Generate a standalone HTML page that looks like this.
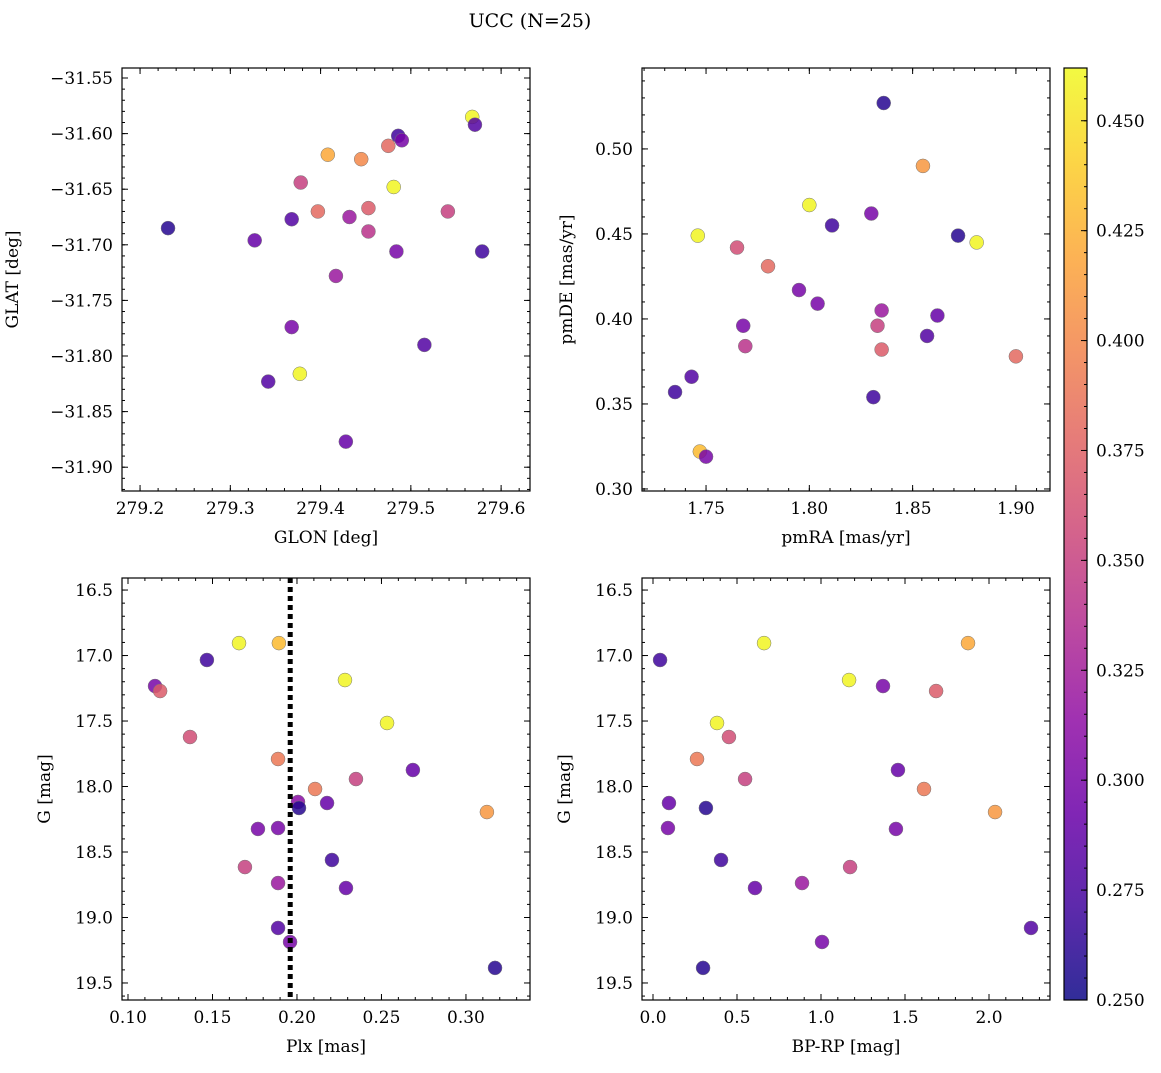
<!DOCTYPE html>
<html><head><meta charset="utf-8">
<style>
body{margin:0;background:#fff;}
svg text{font-family:"DejaVu Serif","Liberation Serif",serif;fill:#000;}
</style></head>
<body>
<svg id="fig" width="1161" height="1068" viewBox="0 0 1161 1068" xmlns="http://www.w3.org/2000/svg">
<text x="530" y="27" font-size="19" text-anchor="middle">UCC (N=25)</text>
</svg>
<script>
// ---- Panel 1: GLON vs GLAT ----
const glonX = [279.231,279.327,279.368,279.378,279.408,279.397,279.432,279.445,279.453,279.453,279.475,279.486,279.490,279.481,279.484,279.541,279.568,279.571,279.579,279.417,279.368,279.342,279.377,279.515,279.428];
const glatY = [-31.685,-31.696,-31.677,-31.644,-31.619,-31.670,-31.675,-31.623,-31.667,-31.688,-31.611,-31.602,-31.606,-31.648,-31.706,-31.670,-31.585,-31.592,-31.706,-31.728,-31.774,-31.823,-31.816,-31.790,-31.877];
const glatC = [0.26,0.29,0.28,0.35,0.42,0.38,0.32,0.40,0.37,0.34,0.38,0.27,0.30,0.46,0.30,0.35,0.46,0.28,0.27,0.32,0.30,0.28,0.46,0.28,0.29];
// ---- Panel 2: pmRA vs pmDE ----
const pmraX = [1.836,1.855,1.800,1.811,1.830,1.872,1.881,1.746,1.765,1.780,1.795,1.804,1.835,1.862,1.833,1.768,1.857,1.769,1.835,1.900,1.743,1.735,1.831,1.747,1.750];
const pmdeY = [0.527,0.490,0.467,0.455,0.462,0.449,0.445,0.449,0.442,0.431,0.417,0.409,0.405,0.402,0.396,0.396,0.390,0.384,0.382,0.378,0.366,0.357,0.354,0.322,0.319];
const pmC = [0.26,0.41,0.46,0.27,0.30,0.26,0.46,0.46,0.36,0.38,0.30,0.30,0.32,0.29,0.35,0.30,0.28,0.34,0.37,0.38,0.28,0.27,0.27,0.43,0.30];
// ---- Panel 3: Plx vs G ----
const plxX = [0.1657,0.1893,0.1467,0.116,0.119,0.2284,0.1367,0.2533,0.1888,0.2686,0.2349,0.2107,0.2006,0.2012,0.2178,0.3124,0.1769,0.1888,0.2207,0.1692,0.2290,0.1888,0.1888,0.1959,0.3172];
const plxG = [16.905,16.905,17.034,17.233,17.271,17.187,17.622,17.515,17.790,17.874,17.943,18.019,18.118,18.164,18.126,18.195,18.324,18.317,18.561,18.615,18.775,18.737,19.080,19.187,19.385];
const plxC = [0.46,0.43,0.27,0.30,0.37,0.46,0.36,0.46,0.39,0.29,0.35,0.39,0.31,0.26,0.29,0.41,0.30,0.30,0.27,0.35,0.29,0.32,0.28,0.30,0.26];
const plxLine = [0.196];
// ---- Panel 4: BP-RP vs G ----
const bprpX = [0.042,0.661,1.875,1.167,1.369,1.685,0.381,0.452,0.262,0.548,1.458,1.613,0.095,0.315,2.036,0.089,1.446,0.405,1.173,0.887,0.607,1.006,2.25,0.298];
const bprpG = [17.034,16.905,16.905,17.187,17.233,17.271,17.515,17.622,17.790,17.943,17.874,18.019,18.126,18.164,18.195,18.317,18.324,18.561,18.615,18.737,18.775,19.187,19.080,19.385];
const bprpC = [0.27,0.46,0.42,0.46,0.30,0.37,0.46,0.36,0.39,0.35,0.29,0.39,0.29,0.26,0.41,0.30,0.30,0.27,0.35,0.32,0.29,0.30,0.28,0.26];
// ---- Colorbar ----
const cbTicks = [0.250,0.275,0.300,0.325,0.350,0.375,0.400,0.425,0.450];
const cMin = 0.25, cMax = 0.462;

const NS="http://www.w3.org/2000/svg";
const svgEl=document.getElementById('fig');
const TFS=17;
function mk(tag,attrs,parent){const e=document.createElementNS(NS,tag);for(const k in attrs)e.setAttribute(k,attrs[k]);(parent||svgEl).appendChild(e);return e;}
const plasma=[[13,8,135],[65,4,157],[106,0,168],[143,13,164],[177,42,144],[204,71,120],[225,100,98],[242,132,75],[252,166,54],[252,206,37],[240,249,33]];
function cmap(v){let t=(v-cMin)/(cMax-cMin);t=Math.max(0,Math.min(1,t));const s=t*10,i=Math.min(9,Math.floor(s)),f=s-i;const a=plasma[i],b=plasma[i+1];return "rgb("+Math.round(a[0]+(b[0]-a[0])*f)+","+Math.round(a[1]+(b[1]-a[1])*f)+","+Math.round(a[2]+(b[2]-a[2])*f)+")";}

function panel(name,box,xr,yr,xMajor,xMinor,yMajor,yMinor,xfmt,yfmt,xlabel,ylabel,yoff){
  const g=mk('g',{});
  
  
  const L=box[0],T=box[1],R=box[2],B=box[3];
  const sx=v=>L+(v-xr[0])/(xr[1]-xr[0])*(R-L);
  const sy=v=>T+(v-yr[0])/(yr[1]-yr[0])*(B-T);
  const tk=mk('g',{stroke:'#000','stroke-width':1},g);
  
  
  const xlo=Math.min(xr[0],xr[1]),xhi=Math.max(xr[0],xr[1]),ylo=Math.min(yr[0],yr[1]),yhi=Math.max(yr[0],yr[1]);
  for(let k=Math.ceil(xlo/xMinor-1e-6);k*xMinor<=xhi+1e-9;k++){const x=sx(k*xMinor);mk('line',{x1:x,x2:x,y1:B,y2:B-3},tk);mk('line',{x1:x,x2:x,y1:T,y2:T+3},tk);}
  for(let k=Math.ceil(ylo/yMinor-1e-6);k*yMinor<=yhi+1e-9;k++){const y=sy(k*yMinor);mk('line',{x1:L,x2:L+3,y1:y,y2:y},tk);mk('line',{x1:R,x2:R-3,y1:y,y2:y},tk);}
  for(let k=Math.ceil(xlo/xMajor-1e-6);k*xMajor<=xhi+1e-9;k++){const v=k*xMajor;const x=sx(v);mk('line',{x1:x,x2:x,y1:B,y2:B-6},tk);mk('line',{x1:x,x2:x,y1:T,y2:T+6},tk);
    const t=mk('text',{x:x,y:B+23,'font-size':TFS,'text-anchor':'middle'},g);t.textContent=xfmt(v);
    }
  for(let k=Math.ceil(ylo/yMajor-1e-6);k*yMajor<=yhi+1e-9;k++){const v=k*yMajor;const y=sy(v);mk('line',{x1:L,x2:L+6,y1:y,y2:y},tk);mk('line',{x1:R,x2:R-6,y1:y,y2:y},tk);
    const t=mk('text',{x:L-9,y:y+6,'font-size':TFS,'text-anchor':'end'},g);t.textContent=yfmt(v);
    }
  const fr=mk('rect',{x:L,y:T,width:R-L,height:B-T,fill:'none',stroke:'#000','stroke-width':1.2},g);
  
  const xl=mk('text',{x:(L+R)/2,y:B+52,'font-size':17,'text-anchor':'middle'},g);xl.textContent=xlabel;
  
  const yl=mk('text',{x:0,y:0,'font-size':17,'text-anchor':'middle',transform:'translate('+(L-yoff)+','+((T+B)/2)+') rotate(-90)'},g);yl.textContent=ylabel;
  
  return {g:g,sx:sx,sy:sy};
}
function scatter(p,xs,ys,cs){
  for(let i=0;i<xs.length;i++){
    const c=mk('circle',{cx:p.sx(xs[i]),cy:p.sy(ys[i]),r:7,fill:cmap(cs[i]),'fill-opacity':0.85,stroke:'#777','stroke-width':0.5},p.g);
    
    
  }
}
const fm=s=>s.replace('-','\u2212');
const f2=v=>fm(v.toFixed(2)), f1=v=>fm(v.toFixed(1));
const p1=panel('glon-glat-panel',[122,68,530,491],[279.180,279.632],[-31.541,-31.9214],0.1,0.02,0.05,0.01,f1,f2,'GLON [deg]','GLAT [deg]',104);
scatter(p1,glonX,glatY,glatC);
const p2=panel('pm-panel',[642,68,1050,491],[1.719,1.9165],[0.5476,0.2988],0.05,0.01,0.05,0.01,f2,f2,'pmRA [mas/yr]','pmDE [mas/yr]',70);
scatter(p2,pmraX,pmdeY,pmC);
const p3=panel('plx-g-panel',[122,578,530,1000],[0.09645,0.3379],[16.408,19.630],0.05,0.01,0.5,0.1,f2,f1,'Plx [mas]','G [mag]',72);
scatter(p3,plxX,plxG,plxC);
plxLine.forEach(v=>{const l=mk('line',{x1:p3.sx(v),x2:p3.sx(v),y1:578,y2:1000,stroke:'#000','stroke-width':5,'stroke-dasharray':'5 4'},p3.g);
  });
const p4=panel('cmd-panel',[642,578,1050,1000],[-0.0655,2.363],[16.408,19.630],0.5,0.1,0.5,0.1,f1,f1,'BP-RP [mag]','G [mag]',72);
scatter(p4,bprpX,bprpG,bprpC);

// colorbar
const cbG=mk('g',{});


const defsEl=mk('defs',{},cbG);
const gradEl=mk('linearGradient',{id:'cbg',x1:0,y1:1,x2:0,y2:0},defsEl);
for(let i=0;i<=10;i++){mk('stop',{offset:i/10,'stop-color':'rgb('+plasma[i].join(',')+')','stop-opacity':0.85},gradEl);}
const cbT=68,cbB=1000,cbL=1064,cbR=1087;
const cbY=v=>cbB-(v-cMin)/(cMax-cMin)*(cbB-cbT);
mk('rect',{x:cbL,y:cbT,width:cbR-cbL,height:cbB-cbT,fill:'url(#cbg)',stroke:'#000','stroke-width':1.2},cbG);
for(let k=50;k*0.005<=cMax+1e-9;k++){const y=cbY(k*0.005);mk('line',{x1:cbR,x2:cbR-3,y1:y,y2:y,stroke:'#000'},cbG);}
cbTicks.forEach(v=>{mk('line',{x1:cbR,x2:cbR-6,y1:cbY(v),y2:cbY(v),stroke:'#000'},cbG);
  const t=mk('text',{x:cbR+9,y:cbY(v)+6,'font-size':TFS},cbG);t.textContent=v.toFixed(3);
  });
</script>
</body></html>
